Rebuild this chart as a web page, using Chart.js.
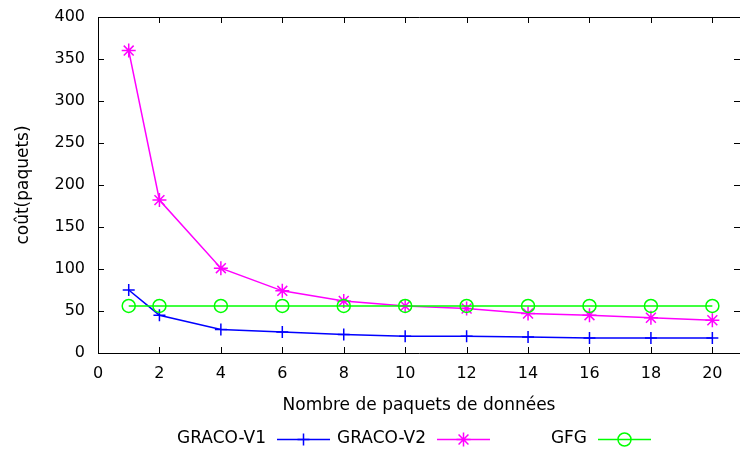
<!DOCTYPE html>
<html lang="fr">
<head>
    <meta charset="UTF-8">
    <title>Coût en paquets</title>
    <script src="https://cdn.jsdelivr.net/npm/chart.js"></script>
    <style>
        body { margin: 0; background: #fff; }
        #chart { display: block; }
    </style>
</head>
<body>
    <canvas id="chart" width="740" height="450"></canvas>

    <script>
        // data
        const packets = [1, 2, 4, 6, 8, 10, 12, 14, 16, 18, 20];
        const gracoV1 = [75, 45, 28, 25, 22, 20, 20, 19, 18, 18, 18];
        const gracoV2 = [360, 182, 101, 74, 62, 56, 53, 47, 45, 42, 39];
        const gfg = [56, 56, 56, 56, 56, 56, 56, 56, 56, 56, 56];
        const seriesNames = ['GRACO-V1', 'GRACO-V2', 'GFG'];
        const xTitle = 'Nombre de paquets de données';
        const yTitle = 'coût(paquets)';

        const FONT = 'DejaVu Sans';
        const FS = 17;      // titles and key
        const TICK_FS = 16; // tick labels

        function toPoints(ys) {
            return packets.map((x, i) => ({ x: x, y: ys[i] }));
        }

        function series(label, ys, color, style, radius, order) {
            return {
                label: label,
                data: toPoints(ys),
                borderColor: color,
                backgroundColor: 'rgba(0,0,0,0)',
                borderWidth: 1.5,
                pointStyle: style,
                pointRadius: radius,
                pointBorderWidth: 1.5,
                pointBorderColor: color,
                pointBackgroundColor: 'rgba(0,0,0,0)',
                tension: 0,
                fill: false,
                order: order
            };
        }

        // gnuplot style frame with inward (mirrored) ticks
        const frameTicks = {
            id: 'frameTicks',
            beforeDatasetsDraw(chart) {
                const ctx = chart.ctx;
                const a = chart.chartArea;
                const xs = chart.scales.x, ys = chart.scales.y;
                const len = 6;
                ctx.save();
                ctx.strokeStyle = '#000';
                ctx.lineWidth = 1;
                ctx.beginPath();
                ctx.moveTo(a.right, a.top + 0.5);
                ctx.lineTo(a.left + 0.5, a.top + 0.5);
                ctx.lineTo(a.left + 0.5, a.bottom + 0.5);
                ctx.lineTo(a.right, a.bottom + 0.5);
                xs.ticks.forEach(t => {
                    const px = Math.round(xs.getPixelForValue(t.value)) + 0.5;
                    ctx.moveTo(px, a.bottom);
                    ctx.lineTo(px, a.bottom - len);
                    ctx.moveTo(px, a.top);
                    ctx.lineTo(px, a.top + len);
                });
                ys.ticks.forEach(t => {
                    const py = Math.round(ys.getPixelForValue(t.value)) + 0.5;
                    ctx.moveTo(a.left, py);
                    ctx.lineTo(a.left + len, py);
                    ctx.moveTo(a.right, py);
                    ctx.lineTo(a.right - len, py);
                });
                ctx.stroke();
                ctx.restore();
            }
        };

        function drawMark(ctx, style, x, y, r) {
            ctx.beginPath();
            if (style === 'circle') {
                ctx.arc(x, y, r, 0, Math.PI * 2);
            } else {
                ctx.moveTo(x - r, y); ctx.lineTo(x + r, y);
                ctx.moveTo(x, y - r); ctx.lineTo(x, y + r);
                if (style === 'star') {
                    const d = r * Math.SQRT1_2;
                    ctx.moveTo(x - d, y - d); ctx.lineTo(x + d, y + d);
                    ctx.moveTo(x - d, y + d); ctx.lineTo(x + d, y - d);
                }
            }
            ctx.stroke();
        }

        // key below the plot: text then line sample, like gnuplot
        const keyRight = [266, 426, 587];
        const keyY = 439;
        const gnuKey = {
            id: 'gnuKey',
            afterDraw(chart) {
                const ctx = chart.ctx;
                ctx.save();
                ctx.font = FS + 'px "' + FONT + '"';
                ctx.textAlign = 'right';
                ctx.textBaseline = 'middle';
                chart.data.datasets.forEach((ds, i) => {
                    const tx = keyRight[i];
                    ctx.fillStyle = '#000';
                    ctx.fillText(ds.label, tx, keyY);
                    const x0 = tx + 11, x1 = tx + 64;
                    ctx.strokeStyle = ds.borderColor;
                    ctx.lineWidth = 1.5;
                    ctx.beginPath();
                    ctx.moveTo(x0, keyY + 0.5);
                    ctx.lineTo(x1, keyY + 0.5);
                    ctx.stroke();
                    drawMark(ctx, ds.pointStyle, (x0 + x1) / 2, keyY + 0.5, ds.pointRadius);
                });
                ctx.restore();
            }
        };

        const ctx = document.getElementById('chart').getContext('2d');
        new Chart(ctx, {
            type: 'line',
            data: {
                datasets: [
                    series(seriesNames[0], gracoV1, '#0000ff', 'cross', 6, 3),
                    series(seriesNames[1], gracoV2, '#ff00ff', 'star', 7, 2),
                    series(seriesNames[2], gfg, '#00ff00', 'circle', 6.5, 1)
                ]
            },
            options: {
                responsive: false,
                animation: false,
                layout: {
                    autoPadding: false,
                    padding: { top: 17, left: 0, right: 0, bottom: 0 }
                },
                plugins: {
                    legend: { display: false },
                    tooltip: { enabled: false }
                },
                scales: {
                    x: {
                        type: 'linear',
                        min: 0,
                        max: 20.9,
                        grid: { display: false, drawTicks: false },
                        border: { display: false },
                        ticks: {
                            stepSize: 2,
                            includeBounds: false,
                            maxRotation: 0,
                            padding: 11,
                            color: '#000',
                            font: { family: FONT, size: TICK_FS }
                        },
                        title: {
                            display: true,
                            text: xTitle,
                            color: '#000',
                            font: { family: FONT, size: FS },
                            padding: { top: 0, bottom: 34 }
                        },
                        afterFit(scale) {
                            scale.height = 97;
                            scale.paddingLeft = 0;
                            scale.paddingRight = 0;
                        }
                    },
                    y: {
                        min: 0,
                        max: 400,
                        grid: { display: false, drawTicks: false },
                        border: { display: false },
                        ticks: {
                            stepSize: 50,
                            padding: 13,
                            color: '#000',
                            font: { family: FONT, size: TICK_FS }
                        },
                        title: {
                            display: true,
                            text: yTitle,
                            color: '#000',
                            font: { family: FONT, size: FS },
                            padding: { top: 13, bottom: 0 }
                        },
                        afterFit(scale) {
                            scale.width = 98;
                            scale.paddingTop = 0;
                            scale.paddingBottom = 0;
                        }
                    }
                }
            },
            plugins: [frameTicks, gnuKey]
        });
    </script>
</body>
</html>
